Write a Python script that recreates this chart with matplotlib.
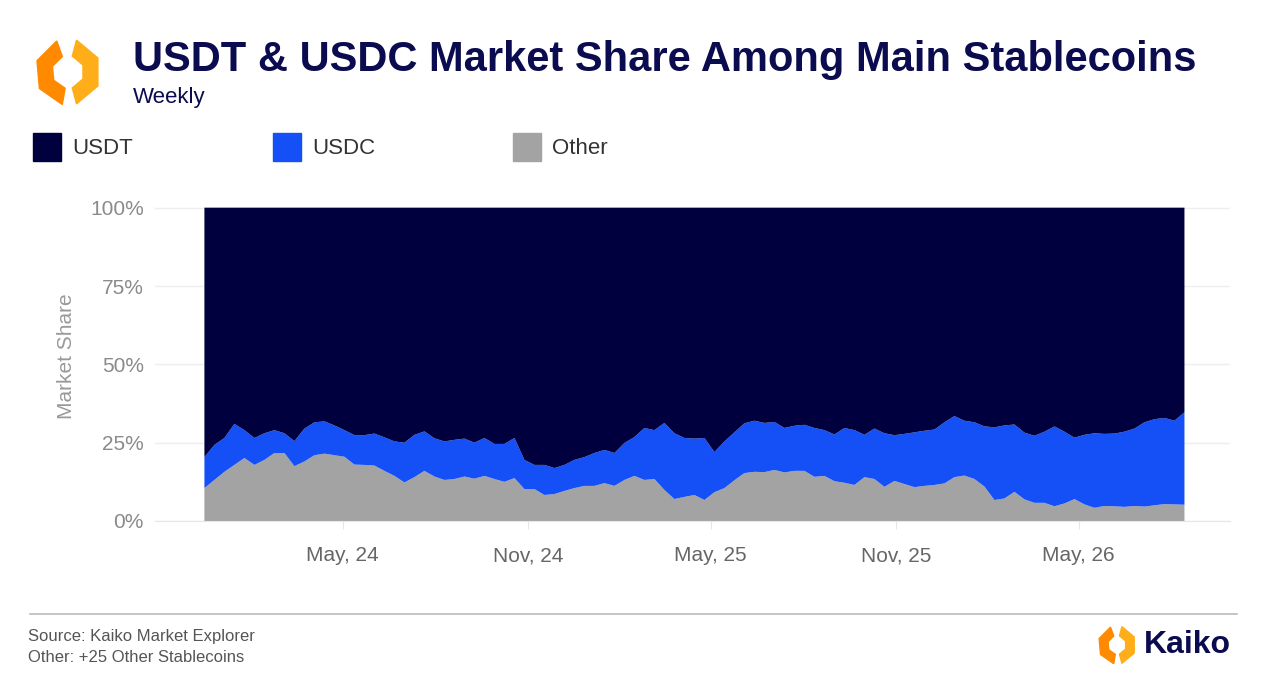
import numpy as np
import pandas as pd
import matplotlib
matplotlib.use("Agg")
from matplotlib import pyplot as plt
from matplotlib.patches import Polygon, Rectangle
from matplotlib.ticker import FuncFormatter

plt.rcParams['font.family'] = ['Liberation Sans', 'DejaVu Sans']

# share of non-USDT (USDC + Other), percent, roughly every 10 days from mid Dec 2023
non_usdt = [20.4, 24.3, 26.5, 31, 29, 26.5, 28, 29, 28, 25.5, 29.5, 31.5, 31.8, 30.5, 29, 27.4, 27.4, 27.9, 26.7,
            25.4, 25, 27.5, 28.6, 26.4, 25.4, 25.9, 26.3, 25, 26.5, 24.6, 24.6, 26.5, 19.5, 17.9, 17.9, 16.9, 17.9,
            19.5, 20.4, 21.7, 22.7, 21.7, 24.9, 26.8, 29.7, 29, 31.3, 28, 26.5, 26.3, 26.5, 22, 25.4, 28.3, 31.2,
            32, 31.3, 31.6, 29.7, 30.4, 30.7, 29.7, 29, 27.6, 29.7, 29, 27.5, 29.5, 28, 27.4, 27.8, 28.3, 28.8,
            29.2, 31.5, 33.5, 32, 31.5, 30.2, 29.9, 30.5, 30.8, 28.2, 27.2, 28.5, 30.2, 28.5, 26.6, 27.5, 28, 27.8,
            27.9, 28.5, 29.5, 31.5, 32.5, 32.9, 32, 34.7]
other = [10.5, 13.1, 15.7, 17.9, 20.1, 17.9, 19.5, 21.7, 21.7, 17.5, 19, 21, 21.5, 21, 20.5, 18, 17.9, 17.7, 16,
         14.4, 12.3, 14, 16, 14.2, 13.1, 13.4, 14.2, 13.5, 14.4, 13.4, 12.5, 13.7, 10.2, 10.2, 8.3, 8.6, 9.6, 10.5,
         11.2, 11.2, 12.1, 11.2, 13.1, 14.4, 13.1, 13.4, 9.9, 7, 7.7, 8.3, 6.7, 9.2, 10.5, 13, 15.3, 15.7, 15.6,
         16.3, 15.5, 16, 16, 14.1, 14.4, 12.7, 12.2, 11.5, 14, 13.4, 10.9, 12.8, 11.8, 10.8, 11.2, 11.5, 12, 14,
         14.5, 13.4, 11, 6.7, 7.2, 9.3, 6.9, 5.8, 5.8, 4.7, 5.6, 7, 5.3, 4.2, 4.8, 4.7, 4.5, 4.8, 4.6, 5, 5.4,
         5.3, 5.2]
dates = pd.date_range('2023-12-16', periods=len(other), freq='238h')

other = np.array(other) / 100
usdc = np.array(non_usdt) / 100 - other
usdt = 1 - other - usdc

c_usdt = "#00003f"
c_usdc = "#1450f5"
c_other = "#a3a3a3"
navy = "#0b0b4f"

fig = plt.figure(figsize=(12.7, 6.92), dpi=100)
ax = fig.add_axes([155 / 1270, 1 - 521 / 692, 1075 / 1270, 329 / 692])
ax.stackplot(dates, other, usdc, usdt, colors=[c_other, c_usdc, c_usdt], linewidth=0)
ax.set_ylim(0, 1.05)
ax.set_xlim(pd.Timestamp('2023-10-28'), pd.Timestamp('2026-09-28'))
ax.set_yticks([0, 0.25, 0.5, 0.75, 1.0])
ax.yaxis.set_major_formatter(FuncFormatter(lambda v, p: f"{v * 100:.0f}%"))
ticks = pd.to_datetime(['2024-05-01', '2024-11-01', '2025-05-01', '2025-11-01', '2026-05-01'])
ax.set_xticks(ticks)
ax.set_xticklabels(['May, 24', 'Nov, 24', 'May, 25', 'Nov, 25', 'May, 26'])
ax.grid(axis='y', color='#eeeeee', linewidth=1)
ax.set_axisbelow(True)
for s in ['top', 'right', 'left']:
    ax.spines[s].set_visible(False)
ax.spines['bottom'].set_color('#e6e6e6')
ax.tick_params(axis='y', length=0, labelsize=15, labelcolor='#8a8a8a', pad=8)
ax.tick_params(axis='x', length=6, color='#e6e6e6', labelsize=15, labelcolor='#666666', pad=12)
ax.set_ylabel('Market Share', fontsize=15, color='#999999', labelpad=10)

# title
fig.text(133 / 1270, 1 - 60 / 692, 'USDT & USDC Market Share Among Main Stablecoins', fontsize=30,
         fontweight='bold', color=navy, va='center')
fig.text(133 / 1270, 1 - 98 / 692, 'Weekly', fontsize=16, color=navy, va='center')

# legend
for x0, lab, col in [(33, 'USDT', c_usdt), (273, 'USDC', c_usdc), (513, 'Other', c_other)]:
    fig.patches.append(Rectangle((x0 / 1270, 1 - 161 / 692), 28 / 1270, 28 / 692, color=col,
                                 transform=fig.transFigure))
    fig.text((x0 + 39) / 1270, 1 - 148 / 692, lab, fontsize=16, color='#333333', va='center')


def logo(cx, cy, r):
    # two orange brackets forming a hexagon
    def pts(a0, a1, ri, ro):
        angs = np.radians(np.linspace(a0, a1, 4))
        outer = [(cx + ro * np.cos(a), cy + ro * np.sin(a)) for a in angs]
        inner = [(cx + ri * np.cos(a), cy + ri * np.sin(a)) for a in angs[::-1]]
        return [(x / 1270, 1 - y / 692) for x, y in outer + inner]
    for a0, a1, col in [(100, 250, '#ff8a00'), (-75, 75, '#ffae1a')]:
        fig.patches.append(Polygon(pts(a0, a1, r * 0.5, r), closed=True, color=col,
                                   transform=fig.transFigure))


logo(68, 72, 33)
logo(1117, 645, 19)
fig.text(1144 / 1270, 1 - 645 / 692, 'Kaiko', fontsize=23, fontweight='bold', color=navy, va='center')

fig.add_artist(plt.Line2D([30 / 1270, 1237 / 1270], [1 - 614 / 692, 1 - 614 / 692], color='#bbbbbb',
                          linewidth=1.2, transform=fig.transFigure))
fig.text(28 / 1270, 1 - 637 / 692, 'Source: Kaiko Market Explorer', fontsize=12, color='#555555', va='center')
fig.text(28 / 1270, 1 - 658 / 692, 'Other: +25 Other Stablecoins', fontsize=12, color='#555555', va='center')

fig.savefig('out.png', dpi=100)
